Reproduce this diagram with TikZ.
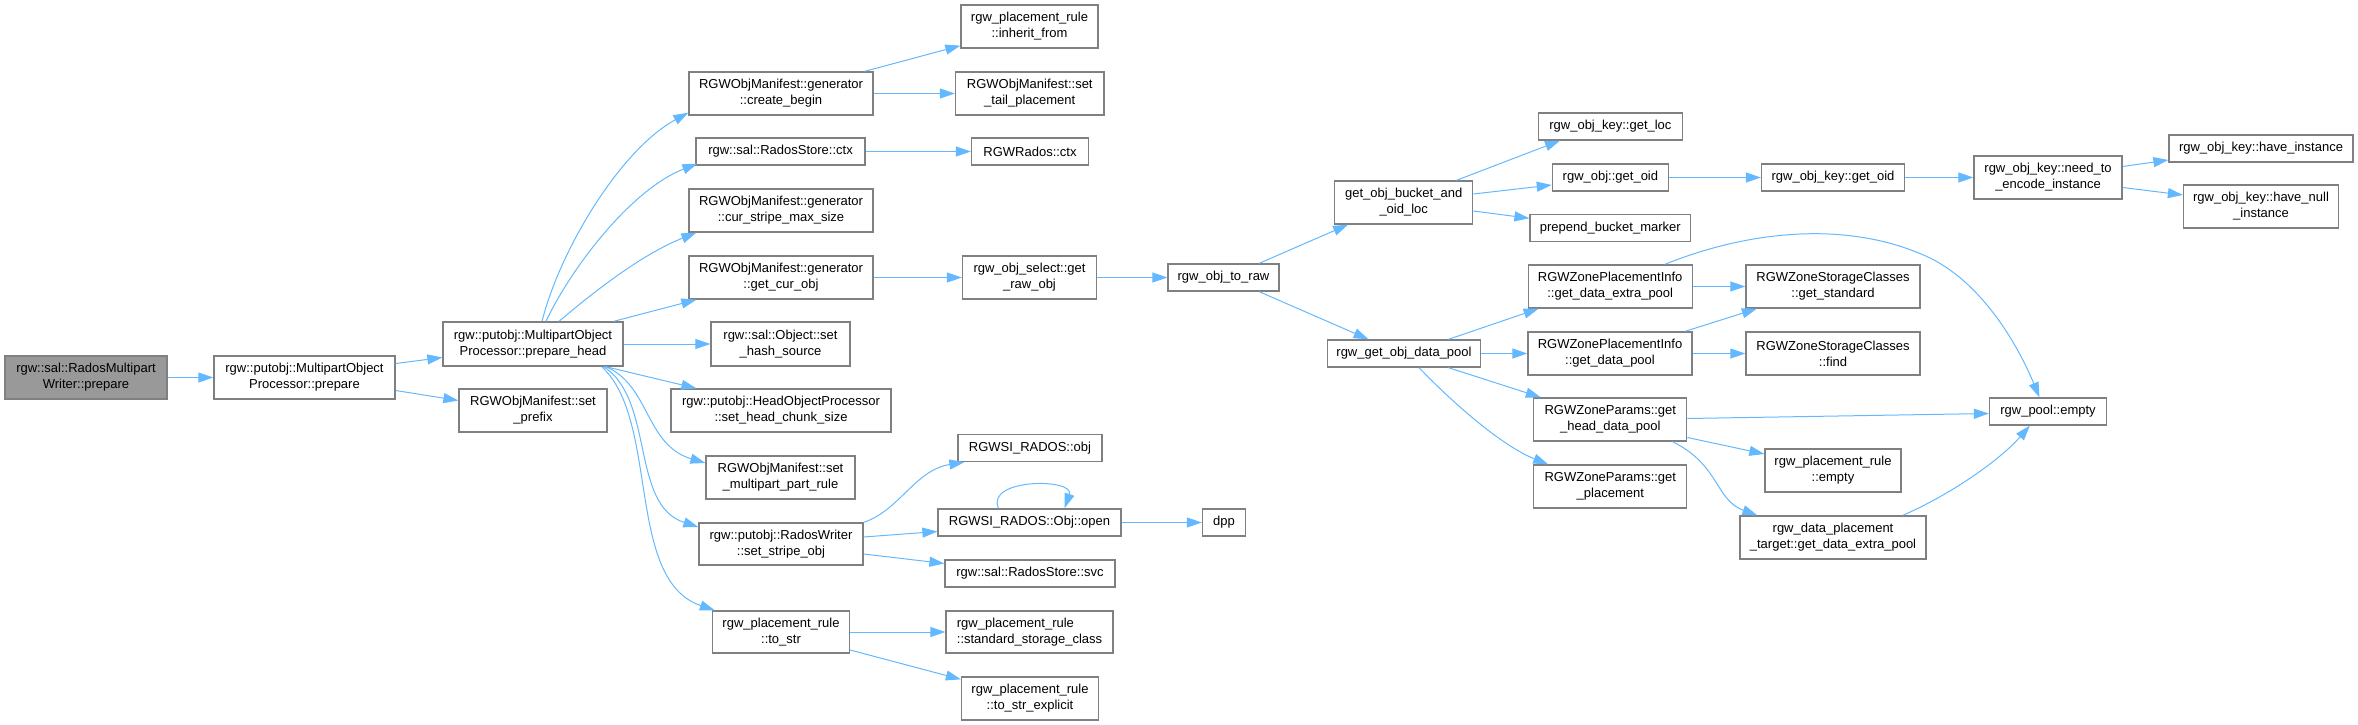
\documentclass[tikz,border=0pt]{standalone}
\usepackage{fontspec}
\setmainfont{Liberation Sans}
\usetikzlibrary{arrows.meta}
\definecolor{eblue}{HTML}{63B8FF}
\definecolor{bgray}{HTML}{808080}
\definecolor{rootgray}{HTML}{999999}
\tikzset{
  box/.style={rectangle, draw=bgray, line width=1.3pt, fill=white, inner sep=0pt, align=center,
    font=\fontsize{13pt}{16pt}\selectfont, text=black},
  wd/.style={minimum width=#1pt},
  ht/.style={minimum height=#1pt},
  conn/.style={draw=eblue, line width=1pt, -{Triangle[length=15pt,width=10pt,fill=eblue]}}
}
\begin{document}
\begin{tikzpicture}[x=1pt,y=-1pt]
\useasboundingbox (0,0) rectangle (2358,725);
% column 1-3
\node[box,wd=162,ht=43,fill=rootgray] (wprep) at (86,377.5) {rgw::sal::RadosMultipart\\Writer::prepare};
\node[box,wd=181,ht=43] (mpoprep) at (304.5,377.5) {rgw::putobj::MultipartObject\\Processor::prepare};
\node[box,wd=180,ht=44] (prephead) at (533,344) {rgw::putobj::MultipartObject\\Processor::prepare\_head};
\node[box,wd=148,ht=43] (setprefix) at (533,410.5) {RGWObjManifest::set\\\_prefix};
% column 4
\node[box,wd=184,ht=43] (createbegin) at (781,93.5) {RGWObjManifest::generator\\::create\_begin};
\node[box,wd=169,ht=27] (storectx) at (780.5,151.5) {rgw::sal::RadosStore::ctx};
\node[box,wd=184,ht=43] (curstripe) at (781,210.5) {RGWObjManifest::generator\\::cur\_stripe\_max\_size};
\node[box,wd=184,ht=43] (getcurobj) at (781,277.5) {RGWObjManifest::generator\\::get\_cur\_obj};
\node[box,wd=139,ht=44] (sethash) at (780.5,344) {rgw::sal::Object::set\\\_hash\_source};
\node[box,wd=220,ht=43] (setheadchunk) at (781,410.5) {rgw::putobj::HeadObjectProcessor\\::set\_head\_chunk\_size};
\node[box,wd=149,ht=43] (setmultipart) at (780.5,477.5) {RGWObjManifest::set\\\_multipart\_part\_rule};
\node[box,wd=164,ht=42] (setstripe) at (781,544) {rgw::putobj::RadosWriter\\::set\_stripe\_obj};
\node[box,wd=137,ht=42] (tostr) at (781,632) {rgw\_placement\_rule\\::to\_str};
% column 5
\node[box,wd=137,ht=43] (inherit) at (1029.5,26.5) {rgw\_placement\_rule\\::inherit\_from};
\node[box,wd=148.5,ht=43] (settail) at (1029.75,93.5) {RGWObjManifest::set\\\_tail\_placement};
\node[box,wd=117,ht=27] (radosctx) at (1030,151.5) {RGWRados::ctx};
\node[box,wd=134,ht=43] (getrawobj) at (1029.5,277.5) {rgw\_obj\_select::get\\\_raw\_obj};
\node[box,wd=144,ht=27] (siobj) at (1030,448) {RGWSI\_RADOS::obj};
\node[box,wd=183,ht=27] (objopen) at (1029.5,522.5) {RGWSI\_RADOS::Obj::open};
\node[box,wd=170,ht=27] (storesvc) at (1030,573.5) {rgw::sal::RadosStore::svc};
\node[box,wd=167,ht=42,align=left] (stdstorage) at (1029.5,632) {rgw\_placement\_rule\\::standard\_storage\_class};
\node[box,wd=137,ht=43] (tostrexpl) at (1030,698.5) {rgw\_placement\_rule\\::to\_str\_explicit};
% column 6-7
\node[box,wd=111,ht=27] (objtoraw) at (1223.5,277.5) {rgw\_obj\_to\_raw};
\node[box,wd=43,ht=27] (dpp) at (1224,522.5) {dpp};
\node[box,wd=138,ht=43] (bucketoid) at (1403.7,202.5) {get\_obj\_bucket\_and\\\_oid\_loc};
\node[box,wd=153.5,ht=27] (getdatapool) at (1404,353.5) {rgw\_get\_obj\_data\_pool};
% column 8
\node[box,wd=143.5,ht=27] (getloc) at (1610.4,126.5) {rgw\_obj\_key::get\_loc};
\node[box,wd=116,ht=27] (objgetoid) at (1610.4,177.5) {rgw\_obj::get\_oid};
\node[box,wd=160.5,ht=27] (prepend) at (1610.3,228) {prepend\_bucket\_marker};
\node[box,wd=164,ht=43] (zpiextra) at (1610.2,286.5) {RGWZonePlacementInfo\\::get\_data\_extra\_pool};
\node[box,wd=164,ht=43] (zpidata) at (1610,353.5) {RGWZonePlacementInfo\\::get\_data\_pool};
\node[box,wd=153,ht=43] (headpool) at (1610.3,419.5) {RGWZoneParams::get\\\_head\_data\_pool};
\node[box,wd=153,ht=43] (placement) at (1610.3,486.5) {RGWZoneParams::get\\\_placement};
% column 9
\node[box,wd=143,ht=27] (keygetoid) at (1833,177.5) {rgw\_obj\_key::get\_oid};
\node[box,wd=174,ht=43] (zscstd) at (1833,286.5) {RGWZoneStorageClasses\\::get\_standard};
\node[box,wd=174,ht=43] (zscfind) at (1833,353.5) {RGWZoneStorageClasses\\::find};
\node[box,wd=136,ht=43] (pruleempty) at (1833,470.5) {rgw\_placement\_rule\\::empty};
\node[box,wd=186,ht=43] (dptextra) at (1833,537.5) {rgw\_data\_placement\\\_target::get\_data\_extra\_pool};
% column 10-11
\node[box,wd=148,ht=43] (needenc) at (2048,177.5) {rgw\_obj\_key::need\_to\\\_encode\_instance};
\node[box,wd=117,ht=27] (poolempty) at (2048,411.5) {rgw\_pool::empty};
\node[box,wd=184,ht=27] (haveinst) at (2261,148.5) {rgw\_obj\_key::have\_instance};
\node[box,wd=155,ht=43] (havenull) at (2261,206.5) {rgw\_obj\_key::have\_null\\\_instance};
% edges
\draw[conn] (wprep.east) -- (mpoprep.west);
\draw[conn] ([yshift=14pt]mpoprep.east) -- ([yshift=-13.5pt]prephead.west);
\draw[conn] ([yshift=-13pt]mpoprep.east) -- ([yshift=10pt]setprefix.west);
\draw[conn] ([xshift=9pt]prephead.north) .. controls (560,250) and (620,150) .. ([yshift=3pt]createbegin.south west);
\draw[conn] ([xshift=13pt]prephead.north) .. controls (570,270) and (630,190) .. ([xshift=2pt,yshift=2pt]storectx.south west);
\draw[conn] ([xshift=26pt]prephead.north) .. controls (590,295) and (640,255) .. ([xshift=8pt]curstripe.south west);
\draw[conn] ([xshift=-10pt]prephead.north east) -- ([xshift=8pt]getcurobj.south west);
\draw[conn] (prephead.east) -- (sethash.west);
\draw[conn] ([xshift=-18pt]prephead.south east) -- ([xshift=26pt]setheadchunk.north west);
\draw[conn] ([xshift=-18pt]prephead.south east) .. controls (650,385) and (645,445) .. ([yshift=14.5pt]setmultipart.west);
\draw[conn] ([xshift=-20pt]prephead.south east) .. controls (655,400) and (630,505) .. ([yshift=17pt]setstripe.west);
\draw[conn] ([xshift=-22pt]prephead.south east) .. controls (660,420) and (625,580) .. ([xshift=3pt]tostr.north west);
\draw[conn] ([xshift=-9pt]createbegin.north east) -- ([yshift=3pt]inherit.south west);
\draw[conn] (createbegin.east) -- (settail.west);
\draw[conn] (storectx.east) -- (radosctx.west);
\draw[conn] (getcurobj.east) -- (getrawobj.west);
\draw[conn] (getrawobj.east) -- (objtoraw.west);
\draw[conn] (setstripe.north east) .. controls (900,510) and (915,470) .. ([xshift=7pt]siobj.south west);
\draw[conn] ([yshift=7pt]setstripe.east) -- ([yshift=-9pt]objopen.west);
\draw[conn] ([yshift=-10pt]setstripe.east) -- ([yshift=10pt]storesvc.west);
\draw[conn] ([xshift=-31pt]objopen.north) .. controls (985,478) and (1075,478) .. ([xshift=35pt]objopen.north);
\draw[conn] (objopen.east) -- (dpp.west);
\draw[conn] (tostr.east) -- (stdstorage.west);
\draw[conn] ([yshift=-18pt]tostr.east) -- ([yshift=-3pt]tostrexpl.north west);
\draw[conn] ([xshift=-20.5pt]objtoraw.north east) -- ([xshift=14pt]bucketoid.south west);
\draw[conn] ([xshift=-20.5pt]objtoraw.south east) -- ([xshift=42pt]getdatapool.north west);
\draw[conn] ([xshift=-17pt]bucketoid.north east) -- ([xshift=22pt]getloc.south west);
\draw[conn] ([yshift=8.5pt]bucketoid.east) -- ([yshift=-7.5pt]objgetoid.west);
\draw[conn] ([yshift=-8.5pt]bucketoid.east) -- ([yshift=9.7pt]prepend.west);
\draw[conn] (objgetoid.east) -- (keygetoid.west);
\draw[conn] (keygetoid.east) -- (needenc.west);
\draw[conn] ([yshift=11pt]needenc.east) -- ([yshift=-11.5pt]haveinst.west);
\draw[conn] ([yshift=-10pt]needenc.east) -- ([yshift=11.5pt]havenull.west);
\draw[conn] ([xshift=-33pt]getdatapool.north east) -- ([xshift=11pt]zpiextra.south west);
\draw[conn] (getdatapool.east) -- (zpidata.west);
\draw[conn] ([xshift=-33pt]getdatapool.south east) -- ([xshift=7.6pt]headpool.north west);
\draw[conn] ([xshift=15pt]getdatapool.south) .. controls (1450,400) and (1500,445) .. ([xshift=15pt]placement.north west);
\draw[conn] (zpiextra.east) -- (zscstd.west);
\draw[conn] ([xshift=-28pt]zpiextra.north east) .. controls (1750,230) and (1850,220) .. (1930,258) .. controls (1985,285) and (2020,350) .. ([xshift=50.6pt]poolempty.north west);
\draw[conn] ([xshift=-7.6pt]zpidata.north east) -- ([xshift=11.5pt]zscstd.south west);
\draw[conn] (zpidata.east) -- (zscfind.west);
\draw[conn] ([yshift=1pt]headpool.east) -- ([yshift=-2pt]poolempty.west);
\draw[conn] ([yshift=-18pt]headpool.east) -- ([yshift=16.5pt]pruleempty.west);
\draw[conn] ([xshift=-15pt]headpool.south east) .. controls (1720,465) and (1715,500) .. ([xshift=18pt]dptextra.north west);
\draw[conn] ([xshift=-24pt]dptextra.north east) .. controls (1950,495) and (2000,460) .. ([xshift=41pt]poolempty.south west);
\end{tikzpicture}
\end{document}
